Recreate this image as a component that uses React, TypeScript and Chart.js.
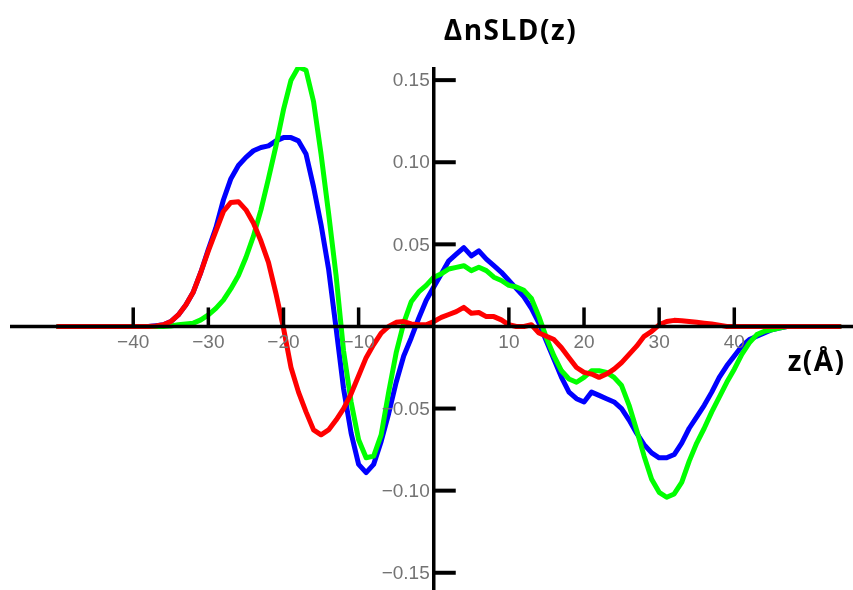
import React, { useEffect, useRef } from "react";
import { Chart, registerables } from "chart.js";

Chart.register(...registerables);

// z positions (Å)
const zValues: number[] = [];
for (let z = -50; z <= 54; z++) zValues.push(z);

const BLUE_Z = [-37,-36,-35,-34,-33,-32,-31,-30,-29,-28,-27,-26,-25,-24,-23,-22,-21,-20,-19,-18,-17,-16,-15,-14,-13,-12,-11,-10,-9,-8,-7,-6,-5,-4,-3,-2,-1,0,1,2,3,4,5,6,7,8,9,10,11,12,13,14,15,16,17,18,19,20,21,22,23,24,25,26,27,28,29,30,31,32,33,34,35,36,37,38,39,40,41,42,43,44,45,46];
const blueValues = [0.0005,0.001,0.003,0.007,0.013,0.021,0.033,0.047,0.06,0.077,0.09,0.098,0.103,0.107,0.109,0.11,0.113,0.115,0.115,0.113,0.105,0.085,0.062,0.035,-0.001,-0.038,-0.065,-0.084,-0.089,-0.084,-0.07,-0.053,-0.034,-0.018,-0.007,0.005,0.016,0.024,0.032,0.04,0.044,0.048,0.043,0.046,0.041,0.037,0.033,0.028,0.023,0.018,0.011,0.002,-0.009,-0.02,-0.031,-0.04,-0.044,-0.046,-0.04,-0.042,-0.044,-0.046,-0.05,-0.057,-0.065,-0.072,-0.077,-0.08,-0.08,-0.078,-0.071,-0.062,-0.055,-0.048,-0.04,-0.031,-0.024,-0.018,-0.012,-0.008,-0.006,-0.004,-0.002,-0.001];

const GREEN_Z = [-35,-34,-33,-32,-31,-30,-29,-28,-27,-26,-25,-24,-23,-22,-21,-20,-19,-18,-17,-16,-15,-14,-13,-12,-11,-10,-9,-8,-7,-6,-5,-4,-3,-2,-1,0,1,2,3,4,5,6,7,8,9,10,11,12,13,14,15,16,17,18,19,20,21,22,23,24,25,26,27,28,29,30,31,32,33,34,35,36,37,38,39,40,41,42,43,44,45,46];
const greenValues = [0.0003,0.001,0.0015,0.002,0.004,0.007,0.011,0.016,0.023,0.031,0.042,0.055,0.071,0.09,0.11,0.132,0.15,0.158,0.156,0.137,0.105,0.069,0.031,-0.015,-0.046,-0.069,-0.08,-0.079,-0.066,-0.04,-0.016,0.002,0.015,0.021,0.025,0.03,0.032,0.035,0.036,0.037,0.034,0.036,0.034,0.03,0.028,0.025,0.024,0.022,0.017,0.006,-0.007,-0.018,-0.027,-0.032,-0.034,-0.031,-0.027,-0.027,-0.028,-0.031,-0.036,-0.048,-0.063,-0.079,-0.093,-0.101,-0.104,-0.102,-0.095,-0.082,-0.071,-0.062,-0.052,-0.043,-0.034,-0.026,-0.017,-0.01,-0.005,-0.003,-0.002,-0.001];

const RED_Z = [-37,-36,-35,-34,-33,-32,-31,-30,-29,-28,-27,-26,-25,-24,-23,-22,-21,-20,-19,-18,-17,-16,-15,-14,-13,-12,-11,-10,-9,-8,-7,-6,-5,-4,-3,-2,-1,0,1,2,3,4,5,6,7,8,9,10,11,12,13,14,15,16,17,18,19,20,21,22,23,24,25,26,27,28,29,30,31,32,33,34,35,36,37,38];
const redValues = [0.0003,0.001,0.003,0.007,0.013,0.021,0.033,0.046,0.058,0.07,0.0755,0.076,0.071,0.063,0.052,0.039,0.02,-0.001,-0.025,-0.04,-0.052,-0.063,-0.066,-0.063,-0.057,-0.05,-0.041,-0.03,-0.019,-0.011,-0.004,0.0,0.0025,0.003,0.0015,0.001,0.001,0.003,0.0055,0.0073,0.009,0.0116,0.008,0.0085,0.006,0.006,0.004,0.001,0.0,0.0,0.001,-0.004,-0.006,-0.008,-0.013,-0.019,-0.025,-0.028,-0.029,-0.031,-0.029,-0.026,-0.022,-0.017,-0.012,-0.006,-0.003,0.001,0.003,0.0037,0.0035,0.003,0.0025,0.002,0.0015,0.0008];

const xTicks = [-40, -30, -20, -10, 10, 20, 30, 40];
const yTicks = [-0.15, -0.1, -0.05, 0.05, 0.1, 0.15];
const yTickLabels = ["\u22120.15", "\u22120.10", "\u22120.05", "0.05", "0.10", "0.15"];
const yTitle = "\u0394nSLD(z)";
const xTitle = "z(\u00C5)";

function buildSeries(zs: number[], vs: number[]) {
  const map = new Map<number, number>();
  zs.forEach((z, i) => map.set(z, vs[i]));
  return zValues.map((z) => ({ x: z, y: map.has(z) ? (map.get(z) as number) : 0 }));
}

const axesPlugin = {
  id: "crossAxes",
  afterDatasetsDraw(chart: any) {
    const { ctx, chartArea, scales } = chart;
    const xs = scales.x;
    const ys = scales.y;
    const x0 = xs.getPixelForValue(0);
    const y0 = ys.getPixelForValue(0);
    ctx.save();
    ctx.strokeStyle = "#000";
    ctx.lineCap = "butt";
    ctx.lineWidth = 3.5;
    ctx.beginPath();
    ctx.moveTo(chartArea.left, y0);
    ctx.lineTo(chartArea.right, y0);
    ctx.stroke();
    ctx.beginPath();
    ctx.moveTo(x0, chartArea.top);
    ctx.lineTo(x0, chartArea.bottom);
    ctx.stroke();
    ctx.font = "19px 'Liberation Sans', Arial, sans-serif";
    ctx.fillStyle = "#737373";
    ctx.textAlign = "center";
    ctx.textBaseline = "middle";
    xTicks.forEach((t) => {
      const px = xs.getPixelForValue(t);
      ctx.beginPath();
      ctx.moveTo(px, y0);
      ctx.lineTo(px, y0 - 19);
      ctx.stroke();
      const lbl = t < 0 ? "\u2212" + Math.abs(t) : String(t);
      ctx.fillText(lbl, px, y0 + 16);
    });
    ctx.textAlign = "right";
    yTicks.forEach((t, i) => {
      const py = ys.getPixelForValue(t);
      ctx.lineWidth = 4;
      ctx.beginPath();
      ctx.moveTo(x0, py);
      ctx.lineTo(x0 + 22, py);
      ctx.stroke();
      ctx.fillText(yTickLabels[i], x0 - 4, py + 1);
    });
    ctx.fillStyle = "#000";
    ctx.font = "bold 28px 'Open Sans', sans-serif";
    try { (ctx as any).letterSpacing = "1.5px"; } catch (e) {}
    ctx.textAlign = "left";
    ctx.textBaseline = "middle";
    ctx.fillText(yTitle, x0 + 10, 32);
    ctx.fillText(xTitle, xs.getPixelForValue(47.1), y0 + 37);
    ctx.restore();
  },
};

export default function App() {
  const ref = useRef<HTMLCanvasElement>(null);
  useEffect(() => {
    if (!ref.current) return;
    const chart = new Chart(ref.current, {
      type: "line",
      data: {
        datasets: [
          { label: "red", data: buildSeries(RED_Z, redValues), borderColor: "#ff0000", borderWidth: 5, pointRadius: 0, tension: 0, fill: false },
          { label: "green", data: buildSeries(GREEN_Z, greenValues), borderColor: "#00ff00", borderWidth: 5, pointRadius: 0, tension: 0, fill: false },
          { label: "blue", data: buildSeries(BLUE_Z, blueValues), borderColor: "#0000ff", borderWidth: 5, pointRadius: 0, tension: 0, fill: false },
        ],
      },
      options: {
        animation: false,
        responsive: false,
        maintainAspectRatio: false,
        layout: { padding: { left: 10, right: 0, top: 67, bottom: 0 } },
        plugins: { legend: { display: false }, tooltip: { enabled: false } },
        elements: { line: { borderJoinStyle: "round", borderCapStyle: "round" } },
        scales: {
          x: { type: "linear", min: -56.4, max: 55.8, display: false },
          y: { type: "linear", min: -0.1605, max: 0.158, display: false },
        },
      },
      plugins: [axesPlugin],
    });
    return () => chart.destroy();
  }, []);
  return (
    <div style={{ position: "absolute", left: 0, top: 0, width: 853, height: 590, background: "#fff" }}>
      <canvas ref={ref} width={853} height={590} style={{ display: "block" }} />
    </div>
  );
}
